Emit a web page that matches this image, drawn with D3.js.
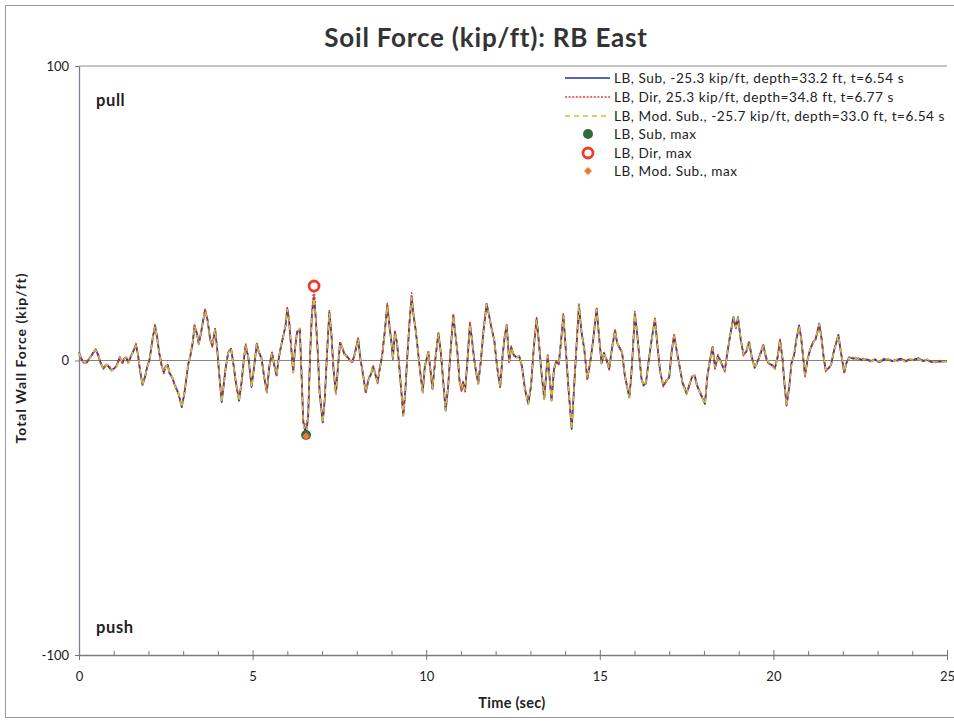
<!DOCTYPE html>
<html>
<head>
<meta charset="utf-8">
<script src="https://cdn.jsdelivr.net/npm/d3@7/dist/d3.min.js"></script>
<style>
  html, body { margin: 0; padding: 0; background: #fff; }
  svg { display: block; }
  text { font-family: Lato, "Open Sans", sans-serif; }
</style>
</head>
<body>
<svg id="chart" width="954" height="722"></svg>
<script>
// Time history of total wall force, RB East (kip/ft vs seconds)
const time = [
  0.00,0.07,0.13,0.22,0.30,0.40,0.48,0.56,0.63,0.70,
  0.78,0.85,0.94,1.02,1.08,1.18,1.25,1.30,1.36,1.42,
  1.50,1.58,1.64,1.70,1.76,1.83,1.90,1.97,2.04,2.12,
  2.19,2.25,2.31,2.38,2.44,2.50,2.56,2.60,2.68,2.76,
  2.86,2.96,3.03,3.10,3.15,3.21,3.28,3.33,3.40,3.45,
  3.53,3.63,3.70,3.78,3.84,3.92,3.98,4.04,4.11,4.17,
  4.22,4.30,4.38,4.45,4.52,4.61,4.68,4.75,4.80,4.88,
  4.97,5.05,5.12,5.18,5.26,5.33,5.41,5.48,5.56,5.62,
  5.69,5.75,5.82,5.88,5.95,6.00,6.05,6.10,6.17,6.22,
  6.28,6.36,6.41,6.46,6.54,6.60,6.66,6.71,6.77,6.82,
  6.88,6.93,7.02,7.08,7.14,7.21,7.27,7.33,7.40,7.46,
  7.52,7.58,7.65,7.72,7.80,7.87,7.94,8.04,8.10,8.17,
  8.26,8.34,8.41,8.47,8.53,8.60,8.66,8.73,8.80,8.88,
  8.94,9.00,9.04,9.10,9.16,9.22,9.28,9.34,9.40,9.46,
  9.52,9.58,9.64,9.70,9.77,9.83,9.90,9.96,10.06,10.12,
  10.18,10.26,10.35,10.42,10.49,10.56,10.63,10.70,10.78,10.84,
  10.90,10.96,11.02,11.06,11.12,11.18,11.26,11.32,11.38,11.44,
  11.50,11.57,11.65,11.74,11.80,11.88,11.96,12.04,12.13,12.20,
  12.26,12.32,12.39,12.45,12.52,12.60,12.68,12.76,12.84,12.94,
  13.02,13.10,13.18,13.24,13.32,13.40,13.50,13.61,13.68,13.74,
  13.82,13.88,13.95,14.02,14.10,14.19,14.26,14.33,14.40,14.47,
  14.55,14.64,14.72,14.80,14.91,14.98,15.05,15.12,15.20,15.27,
  15.35,15.44,15.50,15.56,15.64,15.72,15.85,15.90,15.95,16.01,
  16.07,16.14,16.20,16.26,16.33,16.40,16.48,16.59,16.66,16.74,
  16.83,16.92,17.00,17.07,17.14,17.22,17.30,17.38,17.50,17.60,
  17.66,17.73,17.80,17.90,18.03,18.10,18.18,18.25,18.32,18.40,
  18.47,18.52,18.60,18.68,18.76,18.85,18.92,18.98,19.06,19.14,
  19.22,19.30,19.38,19.46,19.54,19.62,19.71,19.79,19.87,19.95,
  20.04,20.12,20.19,20.26,20.32,20.38,20.46,20.52,20.60,20.66,
  20.74,20.80,20.85,20.91,20.98,21.05,21.14,21.22,21.32,21.38,
  21.45,21.51,21.60,21.66,21.74,21.87,21.95,22.04,22.10,22.18,
  22.30,22.42,22.55,22.68,22.80,22.92,23.05,23.18,23.30,23.42,
  23.55,23.68,23.80,23.92,24.05,24.18,24.30,24.42,24.55,24.68,
  24.80,24.92,25.00
];

// LB, Sub.
const forceSub = [
  2.8,0.5,-0.6,-0.8,0.6,2.5,3.7,1.7,-1.0,-2.8,
  -1.4,-2.0,-3.4,-2.6,-1.9,1.1,-0.8,0.6,1.1,-0.8,
  1.5,3.6,5.3,2.0,-3.5,-8.3,-5.5,-2.0,0.8,7.5,
  11.7,8.0,2.5,-1.7,-4.0,-2.0,-1.5,-4.2,-5.5,-8.5,
  -11.0,-15.8,-11.5,-5.5,-1.0,1.7,6.5,11.9,9.0,5.6,
  10.5,17.0,14.0,7.0,5.0,10.7,4.0,-5.0,-14.1,-8.0,
  -3.0,2.8,4.0,-1.5,-7.5,-13.6,-7.5,0.5,5.1,1.0,
  -9.0,-1.5,5.7,3.0,0.5,-5.5,-10.8,-2.0,2.6,-1.5,
  -5.0,0.5,5.0,8.0,12.0,17.5,14.0,6.0,-4.0,4.0,
  9.5,10.8,-5.0,-21.0,-25.3,-19.0,3.0,16.0,21.5,14.0,
  2.0,-11.0,-21.0,-13.0,1.5,16.4,9.0,-3.0,-11.3,-2.0,
  6.0,4.5,2.0,1.5,0.0,-0.5,2.0,7.4,1.0,-4.0,
  -10.8,-6.5,-4.5,-2.0,-4.5,-7.4,-3.0,1.5,9.0,18.7,
  12.0,6.0,0.5,9.6,6.0,-1.5,-10.0,-18.7,-10.0,2.0,
  13.0,21.5,15.0,10.0,2.5,-4.0,-10.8,-2.0,2.8,-3.0,
  -9.6,0.0,9.1,3.0,-7.0,-17.0,-9.0,3.0,15.3,9.0,
  2.5,-7.0,-10.0,-7.5,-10.2,-1.5,12.5,7.0,0.5,-4.0,
  -7.9,-0.5,10.0,19.2,16.0,11.0,7.0,-2.0,-9.0,1.5,
  8.0,11.9,-0.5,4.5,2.0,1.0,1.5,-2.0,-9.5,-14.7,
  -8.5,4.5,14.1,7.0,-4.0,-13.0,1.7,-13.6,-3.0,-0.5,
  -1.0,6.0,15.3,4.0,-10.0,-23.2,-9.0,5.0,18.7,10.0,
  4.0,-6.2,-1.0,6.0,17.5,8.0,-1.0,2.6,0.0,-2.8,
  4.0,10.2,6.0,4.5,3.0,-5.0,-12.5,-6.0,3.0,15.8,
  10.0,1.0,-6.0,-8.5,-7.5,-1.0,6.0,14.1,5.0,-4.0,
  -8.5,-7.0,-5.5,3.0,8.5,3.0,-2.0,-7.5,-11.3,-7.5,
  -5.5,-5.0,-8.5,-11.3,-14.7,-5.0,0.5,4.5,-2.5,1.5,
  0.0,-1.5,-3.4,3.0,9.0,14.7,11.0,14.7,7.0,2.0,
  3.0,6.2,1.0,-2.5,-0.5,2.0,5.1,1.0,-1.0,-1.5,
  -2.8,1.0,6.8,1.0,-8.0,-15.3,-8.5,-1.0,2.0,7.0,
  11.9,7.5,2.0,-5.1,0.0,3.5,6.0,7.5,12.5,8.0,
  1.0,-3.4,-2.5,-1.5,3.0,8.7,2.5,-4.0,-1.0,1.1,
  0.6,0.8,0.2,0.5,-0.3,0.4,-0.6,0.3,0.5,-0.2,
  0.2,0.6,-0.3,0.4,0.2,0.8,-0.2,0.3,-0.5,-0.3,
  -0.4,-0.2,-0.3
];

// LB, Dir.
const forceDir = [
  2.2,0.8,-0.9,-0.5,0.9,2.0,3.9,1.4,-1.3,-2.5,
  -1.8,-1.6,-3.1,-2.9,-1.5,1.5,-1.1,0.9,0.8,-0.5,
  1.9,3.3,5.8,1.6,-3.9,-8.0,-5.9,-1.6,1.2,7.1,
  12.2,7.6,2.9,-1.3,-4.4,-1.6,-1.9,-3.8,-5.9,-8.1,
  -11.4,-15.2,-11.9,-5.1,-1.4,2.1,6.1,12.3,8.6,6.0,
  10.1,17.6,13.6,7.4,4.6,11.1,3.6,-4.6,-13.6,-8.4,
  -2.6,3.2,3.6,-1.1,-7.9,-13.1,-7.9,0.9,5.6,0.6,
  -8.6,-1.9,6.1,2.6,0.9,-5.1,-10.4,-2.4,3.1,-1.1,
  -5.4,0.9,4.6,8.4,11.6,18.0,13.6,6.4,-3.6,3.6,
  9.9,10.4,-4.6,-20.2,-22.8,-18.2,3.8,17.2,25.3,14.8,
  2.4,-10.6,-20.6,-12.6,1.9,17.0,8.6,-2.6,-11.7,-1.6,
  6.4,4.1,2.4,1.1,0.4,-0.9,2.4,7.8,0.6,-3.6,
  -11.2,-6.1,-4.9,-1.6,-4.1,-7.8,-2.6,1.9,9.4,19.4,
  11.6,6.4,0.9,10.0,5.6,-1.1,-9.6,-18.2,-10.4,2.4,
  13.4,23.0,14.6,10.4,2.1,-4.4,-10.4,-2.4,3.2,-2.6,
  -10.0,0.4,9.6,2.6,-7.4,-16.4,-9.4,3.4,15.9,8.6,
  2.9,-6.6,-10.4,-7.1,-10.6,-1.1,13.0,6.6,0.9,-4.4,
  -7.5,-0.9,10.4,19.6,15.6,11.4,6.6,-1.6,-9.4,1.9,
  8.4,12.4,-0.9,4.9,1.6,1.4,1.1,-2.4,-9.1,-14.2,
  -8.9,4.9,14.6,6.6,-4.4,-12.6,2.1,-13.2,-3.4,-0.1,
  -1.4,6.4,15.9,3.6,-9.6,-22.6,-9.4,5.4,19.2,9.6,
  4.4,-6.6,-0.6,6.4,18.0,7.6,-0.6,2.2,0.4,-3.2,
  4.4,10.6,5.6,4.9,2.6,-5.4,-12.0,-6.4,3.4,16.6,
  9.6,1.4,-6.4,-8.1,-7.9,-0.6,6.4,14.6,4.6,-3.6,
  -8.9,-6.6,-5.9,3.4,9.2,2.6,-2.4,-7.1,-10.9,-7.9,
  -5.1,-5.4,-8.1,-10.9,-14.2,-5.4,0.9,4.9,-2.9,1.9,
  0.4,-1.1,-3.8,3.4,8.6,14.2,11.4,14.2,7.4,1.6,
  3.4,6.6,0.6,-2.1,-0.9,2.4,5.6,0.6,-1.4,-1.1,
  -2.4,1.4,7.2,0.6,-8.4,-14.8,-8.9,-0.6,2.4,7.4,
  11.5,7.9,1.6,-5.5,0.4,3.1,6.4,7.1,12.1,8.4,
  0.6,-3.8,-2.1,-1.9,3.4,8.3,2.1,-4.4,-0.6,0.7,
  1.0,0.4,0.6,0.1,0.1,0.0,-0.2,0.7,0.1,0.2,
  -0.2,0.2,0.1,0.0,0.6,0.4,0.2,-0.1,-0.1,-0.7,
  0.0,-0.6,-0.1
];

// LB, Mod. Sub.
const forceModSub = [
  2.6,0.3,-0.4,-1.0,0.4,2.7,3.5,1.9,-0.8,-3.0,
  -1.2,-2.2,-3.6,-2.4,-2.1,0.9,-0.6,0.4,1.3,-1.0,
  1.3,3.8,5.1,2.2,-3.3,-8.5,-5.3,-2.2,0.6,7.7,
  11.5,8.2,2.3,-1.9,-3.8,-2.2,-1.3,-4.4,-5.3,-8.7,
  -10.8,-16.0,-11.3,-5.7,-0.8,1.5,6.7,11.7,9.2,5.4,
  10.7,16.8,14.2,6.8,5.2,10.5,4.2,-5.2,-14.3,-7.8,
  -3.2,2.6,4.2,-1.7,-7.3,-13.8,-7.3,0.3,4.9,1.2,
  -9.2,-1.3,5.5,3.2,0.3,-5.7,-11.0,-1.8,2.4,-1.7,
  -4.8,0.3,5.2,7.8,12.2,17.3,14.2,5.8,-4.2,4.2,
  9.3,11.0,-5.2,-21.4,-25.7,-19.4,2.8,15.8,21.2,13.8,
  1.8,-11.2,-21.2,-13.2,1.3,16.2,9.2,-3.2,-11.5,-2.2,
  5.8,4.7,1.8,1.7,-0.2,-0.3,1.8,7.2,1.2,-4.2,
  -10.6,-6.7,-4.3,-2.2,-4.7,-7.2,-3.2,1.3,8.8,18.5,
  12.2,5.8,0.3,9.4,6.2,-1.7,-10.2,-18.9,-9.8,1.8,
  12.8,21.3,15.2,9.8,2.7,-3.8,-11.0,-1.8,2.6,-3.2,
  -9.4,-0.2,8.9,3.2,-6.8,-17.2,-8.8,2.8,15.1,9.2,
  2.3,-7.2,-9.8,-7.7,-10.0,-1.7,12.3,7.2,0.3,-3.8,
  -8.1,-0.3,9.8,19.0,16.2,10.8,7.2,-2.2,-8.8,1.3,
  7.8,11.7,-0.3,4.3,2.2,0.8,1.7,-1.8,-9.7,-14.9,
  -8.3,4.3,13.9,7.2,-3.8,-13.2,1.5,-13.8,-2.8,-0.7,
  -0.8,5.8,15.1,4.2,-10.2,-23.4,-8.8,4.8,18.5,10.2,
  3.8,-6.0,-1.2,5.8,17.3,8.2,-1.2,2.8,-0.2,-2.6,
  3.8,10.0,6.2,4.3,3.2,-4.8,-12.7,-5.8,2.8,15.6,
  10.2,0.8,-5.8,-8.7,-7.3,-1.2,5.8,13.9,5.2,-4.2,
  -8.3,-7.2,-5.3,2.8,8.3,3.2,-1.8,-7.7,-11.5,-7.3,
  -5.7,-4.8,-8.7,-11.5,-14.9,-4.8,0.3,4.3,-2.3,1.3,
  -0.2,-1.7,-3.2,2.8,9.2,14.5,11.2,14.5,6.8,2.2,
  2.8,6.0,1.2,-2.7,-0.3,1.8,4.9,1.2,-0.8,-1.7,
  -3.0,0.8,6.6,1.2,-7.8,-15.5,-8.3,-1.2,1.8,6.8,
  11.7,7.3,2.2,-4.9,-0.2,3.7,5.8,7.7,12.3,7.8,
  1.2,-3.2,-2.7,-1.3,2.8,8.5,2.7,-3.8,-1.2,0.9,
  0.4,1.0,0.0,0.7,-0.5,0.6,-0.4,0.1,0.7,-0.4,
  0.4,0.4,-0.5,0.6,0.0,0.6,-0.4,0.5,-0.3,-0.5,
  -0.2,-0.4,-0.1
];

// Peak values of each case
const maxNames  = ["LB, Sub, max", "LB, Dir, max", "LB, Mod. Sub., max"];
const maxTimes  = [6.54, 6.77, 6.54];
const maxValues = [-25.3, 25.3, -25.7];

const seriesNames = [
  "LB, Sub, -25.3 kip/ft, depth=33.2 ft, t=6.54 s",
  "LB, Dir, 25.3 kip/ft, depth=34.8 ft, t=6.77 s",
  "LB, Mod. Sub., -25.7 kip/ft, depth=33.0 ft, t=6.54 s"
];
const xTicks = [0, 5, 10, 15, 20, 25];
const yTicks = [-100, 0, 100];

const svg = d3.select("#chart");

// outer chart frame
svg.append("rect").attr("x", 5.5).attr("y", 5.5).attr("width", 980).attr("height", 712)
  .attr("fill", "#fff").attr("stroke", "#9a9a9a").attr("stroke-width", 1);

const x = d3.scaleLinear().domain([0, 25]).range([79, 947]);
const y = d3.scaleLinear().domain([-100, 100]).range([655, 66]);

// title
svg.append("text").attr("x", 486).attr("y", 47).attr("text-anchor", "middle")
  .attr("font-size", 26).attr("font-weight", 700).attr("fill", "#333")
  .attr("letter-spacing", 0.8)
  .text("Soil Force (kip/ft): RB East");

// top boundary line at +100
svg.append("line").attr("x1", x(0)).attr("x2", x(25)).attr("y1", y(100)).attr("y2", y(100))
  .attr("stroke", "#8c8c8c").attr("stroke-width", 1);

// zero line
svg.append("line").attr("x1", x(0)).attr("x2", x(25)).attr("y1", y(0)).attr("y2", y(0))
  .attr("stroke", "#8a8478").attr("stroke-width", 1.2);

// x axis with minor ticks each second
const minorTicks = d3.range(0, 26, 1).filter(d => d % 5 !== 0);
const xMinor = svg.append("g").attr("transform", `translate(0,${y(-100)})`)
  .call(d3.axisBottom(x).tickValues(minorTicks).tickSize(-4).tickFormat(""));
xMinor.select(".domain").remove();
xMinor.selectAll("line").attr("stroke", "#777");

const xAxis = svg.append("g").attr("transform", `translate(0,${y(-100)})`)
  .call(d3.axisBottom(x).tickValues(xTicks).tickSizeInner(5).tickSizeOuter(0)
    .tickPadding(12).tickFormat(d => String(d)));
xAxis.select(".domain").attr("stroke", "#7d7d7d").attr("stroke-width", 1.3);
xAxis.selectAll(".tick line").attr("stroke", "#777").attr("y1", -5);
xAxis.selectAll("text").attr("font-size", 13).attr("fill", "#222")
  .attr("font-family", "Lato, sans-serif");

const yAxis = svg.append("g").attr("transform", `translate(${x(0)},0)`)
  .call(d3.axisLeft(y).tickValues(yTicks).tickSizeInner(4).tickSizeOuter(0)
    .tickPadding(6).tickFormat(d => String(d)));
yAxis.select(".domain").attr("stroke", "#7a7f95").attr("stroke-width", 1.3);
yAxis.selectAll(".tick line").attr("stroke", "#777");
yAxis.selectAll("text").attr("font-size", 13).attr("fill", "#222")
  .attr("font-family", "Lato, sans-serif");

// axis titles
svg.append("text").attr("x", 512).attr("y", 708).attr("text-anchor", "middle")
  .attr("font-size", 14.5).attr("font-weight", 700).attr("fill", "#222")
  .attr("letter-spacing", 0.3).text("Time (sec)");
svg.append("text").attr("transform", "translate(26,358) rotate(-90)")
  .attr("text-anchor", "middle").attr("font-size", 14).attr("font-weight", 700)
  .attr("fill", "#222").attr("letter-spacing", 1).text("Total Wall Force (kip/ft)");

// region notes
svg.append("text").attr("x", 96).attr("y", 106).attr("font-size", 16.5).attr("font-weight", 700)
  .attr("fill", "#222").attr("letter-spacing", 0.6).text("pull");
svg.append("text").attr("x", 96).attr("y", 633).attr("font-size", 16.5).attr("font-weight", 700)
  .attr("fill", "#222").attr("letter-spacing", 0.6).text("push");

// series
const styles = [
  { color: "#23329e", dash: null, width: 1.8 },
  { color: "#e5392c", dash: "2,1.6", width: 1.6 },
  { color: "#c8c63a", dash: "5,4", width: 1.5 }
];
const seriesValues = [forceSub, forceDir, forceModSub];
const line = d3.line().x(d => x(d[0])).y(d => y(d[1]));

seriesValues.forEach((vals, i) => {
  const pts = time.map((t, k) => [t, vals[k]]);
  svg.append("path").datum(pts).attr("d", line)
    .attr("fill", "none").attr("stroke", styles[i].color)
    .attr("stroke-width", styles[i].width)
    .attr("stroke-linejoin", "round")
    .attr("stroke-dasharray", styles[i].dash);
});

// peak markers
const markerG = svg.append("g");
function drawMarker(g, i, cx, cy) {
  if (i === 0) {
    g.append("circle").attr("cx", cx).attr("cy", cy).attr("r", 5).attr("fill", "#2f6b3c");
  } else if (i === 1) {
    g.append("circle").attr("cx", cx).attr("cy", cy).attr("r", 5).attr("fill", "#fff")
      .attr("stroke", "#ec3b2c").attr("stroke-width", 2.8);
  } else {
    g.append("path").attr("d", d3.symbol(d3.symbolDiamond2, 40)())
      .attr("transform", `translate(${cx},${cy})`).attr("fill", "#f0782e");
  }
}
maxTimes.forEach((t, i) => drawMarker(markerG, i, x(t), y(maxValues[i])));

// legend
const lg = svg.append("g");
const rowY = [78, 97, 116, 134, 153, 171];
const legendText = (g, yy, s) => g.append("text").attr("x", 614).attr("y", yy + 5)
  .attr("font-size", 13.6).attr("letter-spacing", 0.55).attr("fill", "#222").text(s);
seriesNames.forEach((name, i) => {
  lg.append("line").attr("x1", 565).attr("x2", 610).attr("y1", rowY[i]).attr("y2", rowY[i])
    .attr("stroke", styles[i].color).attr("stroke-width", 1.3)
    .attr("stroke-dasharray", styles[i].dash);
  legendText(lg, rowY[i], name);
});
maxNames.forEach((name, i) => {
  drawMarker(lg, i, 588, rowY[i + 3]);
  legendText(lg, rowY[i + 3], name);
});
</script>
</body>
</html>
